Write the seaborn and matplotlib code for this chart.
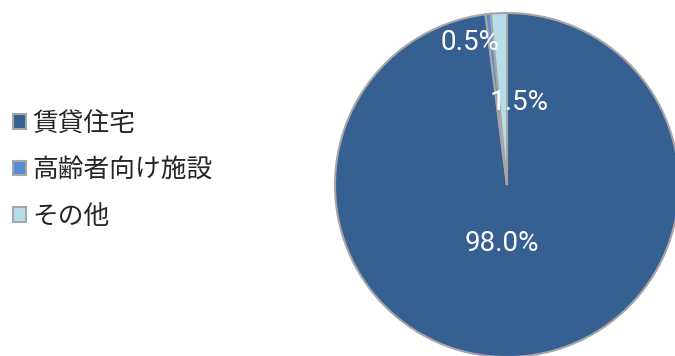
import numpy as np
import matplotlib
matplotlib.use("Agg")
import matplotlib.pyplot as plt
import seaborn as sns

# データ
categories = ["賃貸住宅", "高齢者向け施設", "その他"]
shares = [98.0, 0.5, 1.5]
pct_labels = ["98.0%", "0.5%", "1.5%"]
slice_colors = ["#376092", "#558ED5", "#B7DEE8"]

sns.set_style("white")
plt.rcParams["font.family"] = ["Noto Sans CJK JP", "DejaVu Sans"]

fig = plt.figure(figsize=(6.75, 3.56), dpi=100)

# 円グラフ（中心 507,185 px、半径 172 px）
W, H = 675, 356
cx, cy, r = 507, 185, 172
ax = fig.add_axes([(cx - r) / W, (H - cy - r) / H, 2 * r / W, 2 * r / H])

wedges, texts = ax.pie(
    shares,
    colors=slice_colors,
    startangle=90,
    counterclock=False,
    wedgeprops=dict(edgecolor="#A6A6A6", linewidth=1.5),
)
ax.set_xlim(-1, 1)
ax.set_ylim(-1, 1)
ax.set_aspect("equal")
ax.axis("off")

# ラベル位置（参照画像から読み取り）
label_pos = [(-0.03, -0.34), (-0.215, 0.83), (0.07, 0.48)]
for txt, (lx, ly) in zip(pct_labels, label_pos):
    ax.text(lx, ly, txt, color="white", fontsize=20, ha="center", va="center",
            family=["Liberation Sans Narrow", "Roboto"])

handles = [plt.Rectangle((0, 0), 1, 1, facecolor=c, edgecolor="#A6A6A6", linewidth=1.5)
           for c in slice_colors]
fig.legend(
    handles, categories,
    loc="center left",
    bbox_to_anchor=(0.019, (H - 170) / H),
    frameon=False,
    fontsize=18.5,
    handlelength=0.5,
    handleheight=0.5,
    handletextpad=0.25,
    labelspacing=0.8,
    borderpad=0,
    borderaxespad=0,
)

fig.savefig("out.png", dpi=100)
